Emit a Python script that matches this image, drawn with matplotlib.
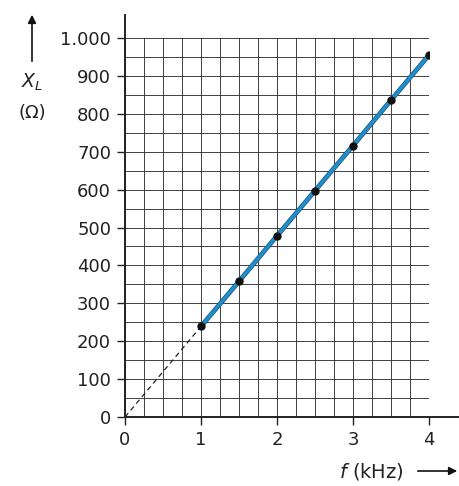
"""Inductive reactance versus frequency for a coil."""

import matplotlib.pyplot as plt
import matplotlib.patheffects as pe
from matplotlib.patches import FancyArrowPatch
from matplotlib.ticker import MultipleLocator, FuncFormatter

# measured points: frequency in kHz, reactance in ohm
freq_khz = [1, 1.5, 2, 2.5, 3, 3.5, 4]
reactance = [239, 358, 478, 597, 716, 836, 955]

# straight extension back to the origin
extrap_f = [0, 1]
extrap_x = [0, 239]

x_ticks = [0, 1, 2, 3, 4]
y_ticks = [0, 100, 200, 300, 400, 500, 600, 700, 800, 900, 1000]

plt.rcParams['font.family'] = ['DejaVu Sans']

fig = plt.figure(figsize=(4.6, 4.86), dpi=100)
ax = fig.add_axes([125 / 460, 69 / 486, 304 / 460, 379 / 486])

ax.set_xlim(0, 4)
ax.set_ylim(0, 1000)
ax.set_xticks(x_ticks)
ax.set_yticks(y_ticks)
ax.xaxis.set_minor_locator(MultipleLocator(0.25))
ax.yaxis.set_minor_locator(MultipleLocator(50))
ax.yaxis.set_major_formatter(
    FuncFormatter(lambda v, p: f"{int(v):,}".replace(",", ".")))

ax.grid(True, which='both', color='#333333', lw=0.65)
ax.set_axisbelow(True)
ax.tick_params(which='major', direction='out', length=6, width=1,
               labelsize=13, pad=4, colors='#222222')
ax.tick_params(which='minor', length=0)

for s in ax.spines.values():
    s.set_visible(False)

# axes lines run past the grid
ax.plot([0, 0], [0, 1062], color='#222222', lw=1.4, clip_on=False, zorder=3)
ax.plot([0, 4.42], [0, 0], color='#222222', lw=1.4, clip_on=False, zorder=3)

ax.plot(extrap_f, extrap_x, color='#222222', lw=0.9, dashes=(4, 3), zorder=4)
ax.plot(freq_khz, reactance, color='#1e8fc8', lw=2.4, zorder=5,
        path_effects=[pe.Stroke(linewidth=3.4, foreground='#1f4f7a'),
                      pe.Normal()])
ax.plot(freq_khz, reactance, 'o', color='#111111', ms=5, zorder=6)

# axis labels with arrows
fig.text(32 / 460, 1 - 82 / 486, r'$X_L$', fontsize=13.5, ha='center',
         va='center', color='#222222')
fig.text(32 / 460, 1 - 113 / 486, '(Ω)', fontsize=13, ha='center',
         va='center', color='#222222')
fig.add_artist(FancyArrowPatch(
    (32 / 460, 1 - 64 / 486), (32 / 460, 1 - 12 / 486),
    transform=fig.transFigure, arrowstyle='-|>', mutation_scale=12,
    color='#111111', lw=1.2))

fig.text(371 / 460, 1 - 471 / 486, r'$f$ (kHz)', fontsize=14, ha='center',
         va='center', color='#222222')
fig.add_artist(FancyArrowPatch(
    (415 / 460, 1 - 471 / 486), (460 / 460, 1 - 471 / 486),
    transform=fig.transFigure, arrowstyle='-|>', mutation_scale=12,
    color='#111111', lw=1.2))

fig.savefig('out.png', dpi=100)
